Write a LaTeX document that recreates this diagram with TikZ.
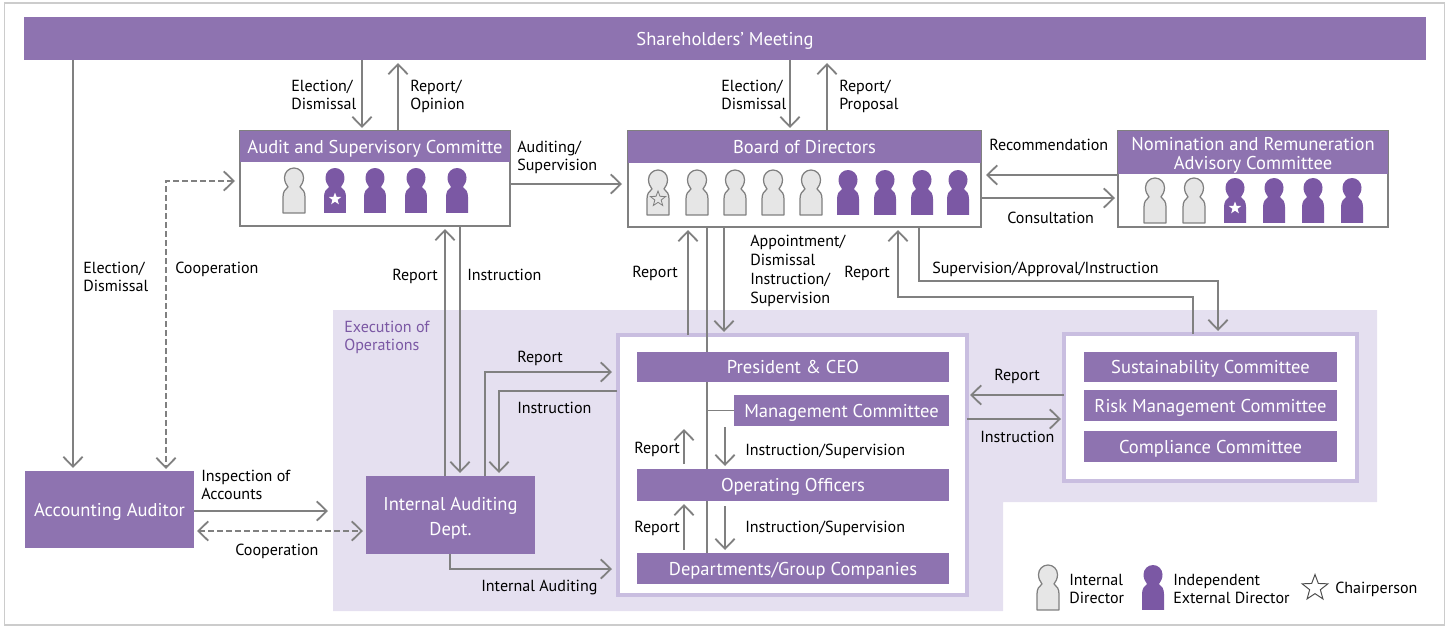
\documentclass[tikz,border=0pt]{standalone}
\usepackage{fontspec}
\setmainfont{PT Sans}
\usetikzlibrary{arrows.meta, shapes.geometric}
\definecolor{barpurple}{HTML}{8E73B0}
\definecolor{darkpurple}{HTML}{7B58A4}
\definecolor{execpurple}{HTML}{E5E0F0}
\definecolor{edgepurple}{HTML}{C9BEE0}
\definecolor{flowgray}{HTML}{808080}
\definecolor{intgray}{HTML}{E6E6E6}
\tikzset{
	person/.pic={
		\path[pic actions, x=0.01in, y=-0.01in] (-11,45) -- (-11,29) .. controls (-11,24) and (-9,21) .. (-6,19)
			.. controls (-8,16.5) and (-9.5,13.5) .. (-9.5,9.5) .. controls (-9.5,4) and (-5,0) .. (0,0)
			.. controls (5,0) and (9.5,4) .. (9.5,9.5) .. controls (9.5,13.5) and (8,16.5) .. (6,19)
			.. controls (9,21) and (11,24) .. (11,29) -- (11,45) -- cycle;
	},
	intdir/.style={fill=intgray, draw=flowgray, line width=0.9pt, line join=round},
	extdir/.style={fill=darkpurple},
	purplebar/.style={fill=barpurple, text=white, inner sep=0, outer sep=0, align=center, font=\fontsize{13.4}{13.4}\selectfont, execute at begin node={\rule[-3pt]{0pt}{16pt}}},
	panel/.style={fill=white, draw=flowgray, line width=0.9pt, inner sep=0, outer sep=0},
	framebox/.style={fill=white, draw=edgepurple, line width=2.8pt, inner sep=0, outer sep=0},
	flow/.style={draw=flowgray, line width=1.4pt, shorten >=0.03in},
	plainflow/.style={flow, shorten >=0pt},
	dashflow/.style={flow, dashed, dash pattern=on 4pt off 2.5pt, line width=1.2pt, shorten <=0.03in},
	tag/.style={anchor=west, inner sep=0, align=left, font=\fontsize{11.6}{13.3}\selectfont, execute at begin node={\rule[-2.8pt]{0pt}{13pt}}, execute at end node={\rule[-2.8pt]{0pt}{0pt}}},
	whitestar/.style={star, star points=5, star point ratio=2.4, fill=white, inner sep=0, minimum size=0.13in},
	hollowstar/.style={star, star points=5, star point ratio=2.4, fill=none, draw=flowgray, line width=0.6pt, inner sep=0, minimum size=0.16in},
}
\begin{document}
\begin{tikzpicture}[>={Straight Barb[length=7.2pt, width=14pt, line width=1.3pt]}]
	\useasboundingbox (0in,0in) rectangle (14.51in,-6.26in);
	\draw[black!20, line width=0.9pt] (0.045in,-0.03in) rectangle (14.445in,-6.25in);
	
	% execution area
	\fill[execpurple] (3.33in,-3.10in) -- (13.77in,-3.10in) -- (13.77in,-5.02in) -- (10.03in,-5.02in) -- (10.03in,-6.11in) -- (3.33in,-6.11in) -- cycle;
	\node (exec) at (3.44in,-3.38in) [tag, text=darkpurple] {Execution of\\Operations};
	
	\node (meeting) at (7.25in,-0.385in) [purplebar, minimum width=14.02in, minimum height=0.43in] {Shareholders’ Meeting};
	
	\node (audit) at (3.75in,-1.785in) [panel, minimum width=2.70in, minimum height=0.95in] {};
	\node (audit-head) at (3.75in,-1.465in) [purplebar, minimum width=2.70in, minimum height=0.31in] {Audit and Supervisory Committe};
	\pic[intdir] at (2.94in,-1.68in) {person};
	\pic[extdir] at (3.35in,-1.68in) {person};
	\pic[extdir] at (3.75in,-1.68in) {person};
	\pic[extdir] at (4.16in,-1.68in) {person};
	\pic[extdir] at (4.57in,-1.68in) {person};
	\node (audit-star) at (3.35in,-1.99in) [whitestar] {};
	
	\node (board) at (8.045in,-1.79in) [panel, minimum width=3.53in, minimum height=0.96in] {};
	\node (board-head) at (8.045in,-1.47in) [purplebar, minimum width=3.53in, minimum height=0.32in] {Board of Directors};
	\pic[intdir] at (6.58in,-1.70in) {person};
	\pic[intdir] at (6.97in,-1.70in) {person};
	\pic[intdir] at (7.35in,-1.70in) {person};
	\pic[intdir] at (7.73in,-1.70in) {person};
	\pic[intdir] at (8.11in,-1.70in) {person};
	\pic[extdir] at (8.48in,-1.70in) {person};
	\pic[extdir] at (8.85in,-1.70in) {person};
	\pic[extdir] at (9.22in,-1.70in) {person};
	\pic[extdir] at (9.58in,-1.70in) {person};
	\node (board-star) at (6.58in,-1.99in) [hollowstar] {};
	
	\node (advisory) at (12.53in,-1.79in) [panel, minimum width=2.70in, minimum height=0.96in] {};
	\node (advisory-head) at (12.53in,-1.525in) [purplebar, minimum width=2.70in, minimum height=0.43in] {};
	\node (advisory-title) at (12.53in,-1.555in) [purplebar, fill=none] {Nomination and Remuneration\\Advisory Committee};
	\pic[intdir] at (11.55in,-1.78in) {person};
	\pic[intdir] at (11.94in,-1.78in) {person};
	\pic[extdir] at (12.35in,-1.78in) {person};
	\pic[extdir] at (12.74in,-1.78in) {person};
	\pic[extdir] at (13.13in,-1.78in) {person};
	\pic[extdir] at (13.52in,-1.78in) {person};
	\node (advisory-star) at (12.35in,-2.08in) [whitestar] {};
	
	\node (opsbox) at (7.925in,-4.65in) [framebox, minimum width=3.49in, minimum height=2.60in] {};
	\node (president) at (7.93in,-3.67in) [purplebar, minimum width=3.12in, minimum height=0.30in] {President \& CEO};
	\node (mgmt) at (8.415in,-4.105in) [purplebar, minimum width=2.15in, minimum height=0.31in] {Management Committee};
	\node (officers) at (7.93in,-4.85in) [purplebar, minimum width=3.12in, minimum height=0.32in] {Operating Officers};
	\node (depts) at (7.93in,-5.685in) [purplebar, minimum width=3.12in, minimum height=0.31in] {Departments/Group Companies};
	
	\node (sidebox) at (12.105in,-4.075in) [framebox, minimum width=2.93in, minimum height=1.47in] {};
	\node (sustain) at (12.105in,-3.67in) [purplebar, minimum width=2.53in, minimum height=0.30in] {Sustainability Committee};
	\node (risk) at (12.105in,-4.055in) [purplebar, minimum width=2.53in, minimum height=0.31in] {Risk Management Committee};
	\node (comply) at (12.105in,-4.465in) [purplebar, minimum width=2.53in, minimum height=0.31in] {Compliance Committee};
	
	\node (auditor) at (1.095in,-5.095in) [purplebar, minimum width=1.69in, minimum height=0.77in] {Accounting Auditor};
	\node (internal) at (4.505in,-5.15in) [purplebar, minimum width=1.69in, minimum height=0.78in] {};
	\node (internal-title) at (4.505in,-5.185in) [purplebar, fill=none] {Internal Auditing\\[4pt]Dept.};
	
	% vertical and bent routes
	\coordinate (r-acct) at (0.73in,0in);
	\coordinate (r-elect) at (3.62in,0in);
	\coordinate (r-opinion) at (3.98in,0in);
	\coordinate (r-elect2) at (7.90in,0in);
	\coordinate (r-proposal) at (8.27in,0in);
	\coordinate (r-up) at (4.45in,0in);
	\coordinate (r-down) at (4.60in,0in);
	\coordinate (r-rep) at (6.88in,0in);
	\coordinate (r-pres) at (7.07in,0in);
	\coordinate (r-app) at (7.24in,0in);
	\coordinate (r-uplow) at (6.84in,0in);
	\coordinate (r-dnlow) at (7.25in,0in);
	\coordinate (co-a) at (2.38in,-1.81in);
	\coordinate (co-b) at (1.66in,-1.81in);
	\coordinate (co-c) at (1.66in,-4.72in);
	\coordinate (sup-a) at (9.19in,-2.81in);
	\coordinate (sup-b) at (12.18in,-2.81in);
	\coordinate (rep-a) at (11.93in,-2.97in);
	\coordinate (rep-b) at (8.98in,-2.97in);
	\coordinate (ir-a) at (4.85in,-3.72in);
	\coordinate (ir-b) at (6.15in,-3.72in);
	\coordinate (ii-a) at (6.17in,-3.91in);
	\coordinate (ii-b) at (4.99in,-3.91in);
	\coordinate (ia-a) at (4.50in,-5.69in);
	\coordinate (ia-b) at (6.15in,-5.69in);
	\coordinate (insp-b) at (3.31in,-5.11in);
	
	\draw[flow, ->] (meeting.south -| r-acct) to (auditor.north -| r-acct);
	\draw[flow, ->] (meeting.south -| r-elect) to (audit.north -| r-elect);
	\draw[flow, ->] (audit.north -| r-opinion) to (meeting.south -| r-opinion);
	\draw[flow, ->] (meeting.south -| r-elect2) to (board.north -| r-elect2);
	\draw[flow, ->] (board.north -| r-proposal) to (meeting.south -| r-proposal);
	\draw[dashflow, <->] (co-a) to (co-b) to (co-c);
	\draw[flow, ->, shorten >=0.06in] (audit.east |- 0in,-1.84in) to (board.west |- 0in,-1.84in);
	\draw[flow, ->, shorten >=0.05in] (advisory.west |- 0in,-1.75in) to (board.east |- 0in,-1.75in);
	\draw[flow, ->] (board.east |- 0in,-1.98in) to (advisory.west |- 0in,-1.98in);
	\draw[flow, ->] (internal.north -| r-up) to (audit.south -| r-up);
	\draw[flow, ->] (audit.south -| r-down) to (internal.north -| r-down);
	\draw[flow, ->] (opsbox.north -| r-rep) to (board.south -| r-rep);
	\draw[plainflow] (board.south -| r-pres) to (president.north -| r-pres);
	\draw[flow, ->] (board.south -| r-app) to (opsbox.north -| r-app);
	\draw[flow, ->] (board.south -| sup-a) to (sup-a) to (sup-b) to (sidebox.north -| sup-b);
	\draw[flow, ->] (sidebox.north -| rep-a) to (rep-a) to (rep-b) to (board.south -| rep-b);
	\draw[flow, ->] (internal.north -| ir-a) to (ir-a) to (ir-b);
	\draw[flow, ->] (ii-a) to (ii-b) to (internal.north -| ii-b);
	\draw[flow, ->] (sidebox.west |- 0in,-3.95in) to (opsbox.east |- 0in,-3.95in);
	\draw[flow, ->] (opsbox.east |- 0in,-4.19in) to (sidebox.west |- 0in,-4.19in);
	\draw[plainflow] (president.south -| r-pres) to (officers.north -| r-pres);
	\draw[plainflow] (mgmt.west) to (mgmt.west -| r-pres);
	\draw[plainflow] (officers.south -| r-pres) to (depts.north -| r-pres);
	\draw[flow, ->] (officers.north -| r-uplow) ++(0in,0.05in) to (mgmt.south -| r-uplow);
	\draw[flow, ->] (mgmt.south -| r-dnlow) ++(0in,-0.01in) to (officers.north -| r-dnlow);
	\draw[flow, ->] (depts.north -| r-uplow) ++(0in,0.03in) to (officers.south -| r-uplow);
	\draw[flow, ->] (officers.south -| r-dnlow) ++(0in,-0.05in) to (depts.north -| r-dnlow);
	\draw[flow, ->] (auditor.east |- insp-b) to (insp-b);
	\draw[dashflow, <->] (auditor.east |- 0in,-5.31in) to (internal.west |- 0in,-5.31in);
	\draw[flow, ->] (internal.south -| ia-a) to (ia-a) to (ia-b);
	
	% labels
	\node (t-elect) at (2.91in,-0.97in) [tag] {Election/\\Dismissal};
	\node (t-opinion) at (4.10in,-0.97in) [tag] {Report/\\Opinion};
	\node (t-elect2) at (7.21in,-0.97in) [tag] {Election/\\Dismissal};
	\node (t-proposal) at (8.39in,-0.97in) [tag] {Report/\\Proposal};
	\node (t-auditing) at (5.17in,-1.58in) [tag] {Auditing/\\Supervision};
	\node (t-recommend) at (9.89in,-1.45in) [tag] {Recommendation};
	\node (t-consult) at (10.07in,-2.18in) [tag] {Consultation};
	\node (t-elect3) at (0.83in,-2.79in) [tag] {Election/\\Dismissal};
	\node (t-coop) at (1.75in,-2.68in) [tag] {Cooperation};
	\node (t-rep1) at (3.92in,-2.75in) [tag] {Report};
	\node (t-ins1) at (4.67in,-2.75in) [tag] {Instruction};
	\node (t-rep2) at (6.32in,-2.72in) [tag] {Report};
	\node (t-appoint) at (7.50in,-2.71in) [tag] {Appointment/\\[0.5pt]Dismissal\\[0.5pt]Instruction/\\[0.5pt]Supervision};
	\node (t-rep3) at (8.44in,-2.72in) [tag] {Report};
	\node (t-super) at (9.32in,-2.68in) [tag] {Supervision/Approval/Instruction};
	\node (t-rep4) at (5.17in,-3.57in) [tag] {Report};
	\node (t-ins2) at (5.17in,-4.08in) [tag] {Instruction};
	\node (t-rep5) at (9.94in,-3.75in) [tag] {Report};
	\node (t-ins3) at (9.80in,-4.37in) [tag] {Instruction};
	\node (t-rep6) at (6.34in,-4.48in) [tag] {Report};
	\node (t-ins4) at (7.45in,-4.50in) [tag] {Instruction/Supervision};
	\node (t-rep7) at (6.34in,-5.27in) [tag] {Report};
	\node (t-ins5) at (7.45in,-5.27in) [tag] {Instruction/Supervision};
	\node (t-inspect) at (2.01in,-4.87in) [tag] {Inspection of\\Accounts};
	\node (t-coop2) at (2.35in,-5.50in) [tag] {Cooperation};
	\node (t-internal) at (4.81in,-5.86in) [tag] {Internal Auditing};
	
	% key
	\pic[intdir] at (10.48in,-5.65in) {person};
	\node (key-int) at (10.69in,-5.91in) [tag] {Internal\\Director};
	\pic[extdir] at (11.53in,-5.65in) {person};
	\node (key-ext) at (11.73in,-5.91in) [tag] {Independent\\External Director};
	\node (key-star) at (13.15in,-5.88in) [star, star points=5, star point ratio=2.4, draw=black!70, line width=0.7pt, inner sep=0, minimum size=0.27in] {};
	\node (key-chair) at (13.35in,-5.88in) [tag] {Chairperson};
\end{tikzpicture}
\end{document}
